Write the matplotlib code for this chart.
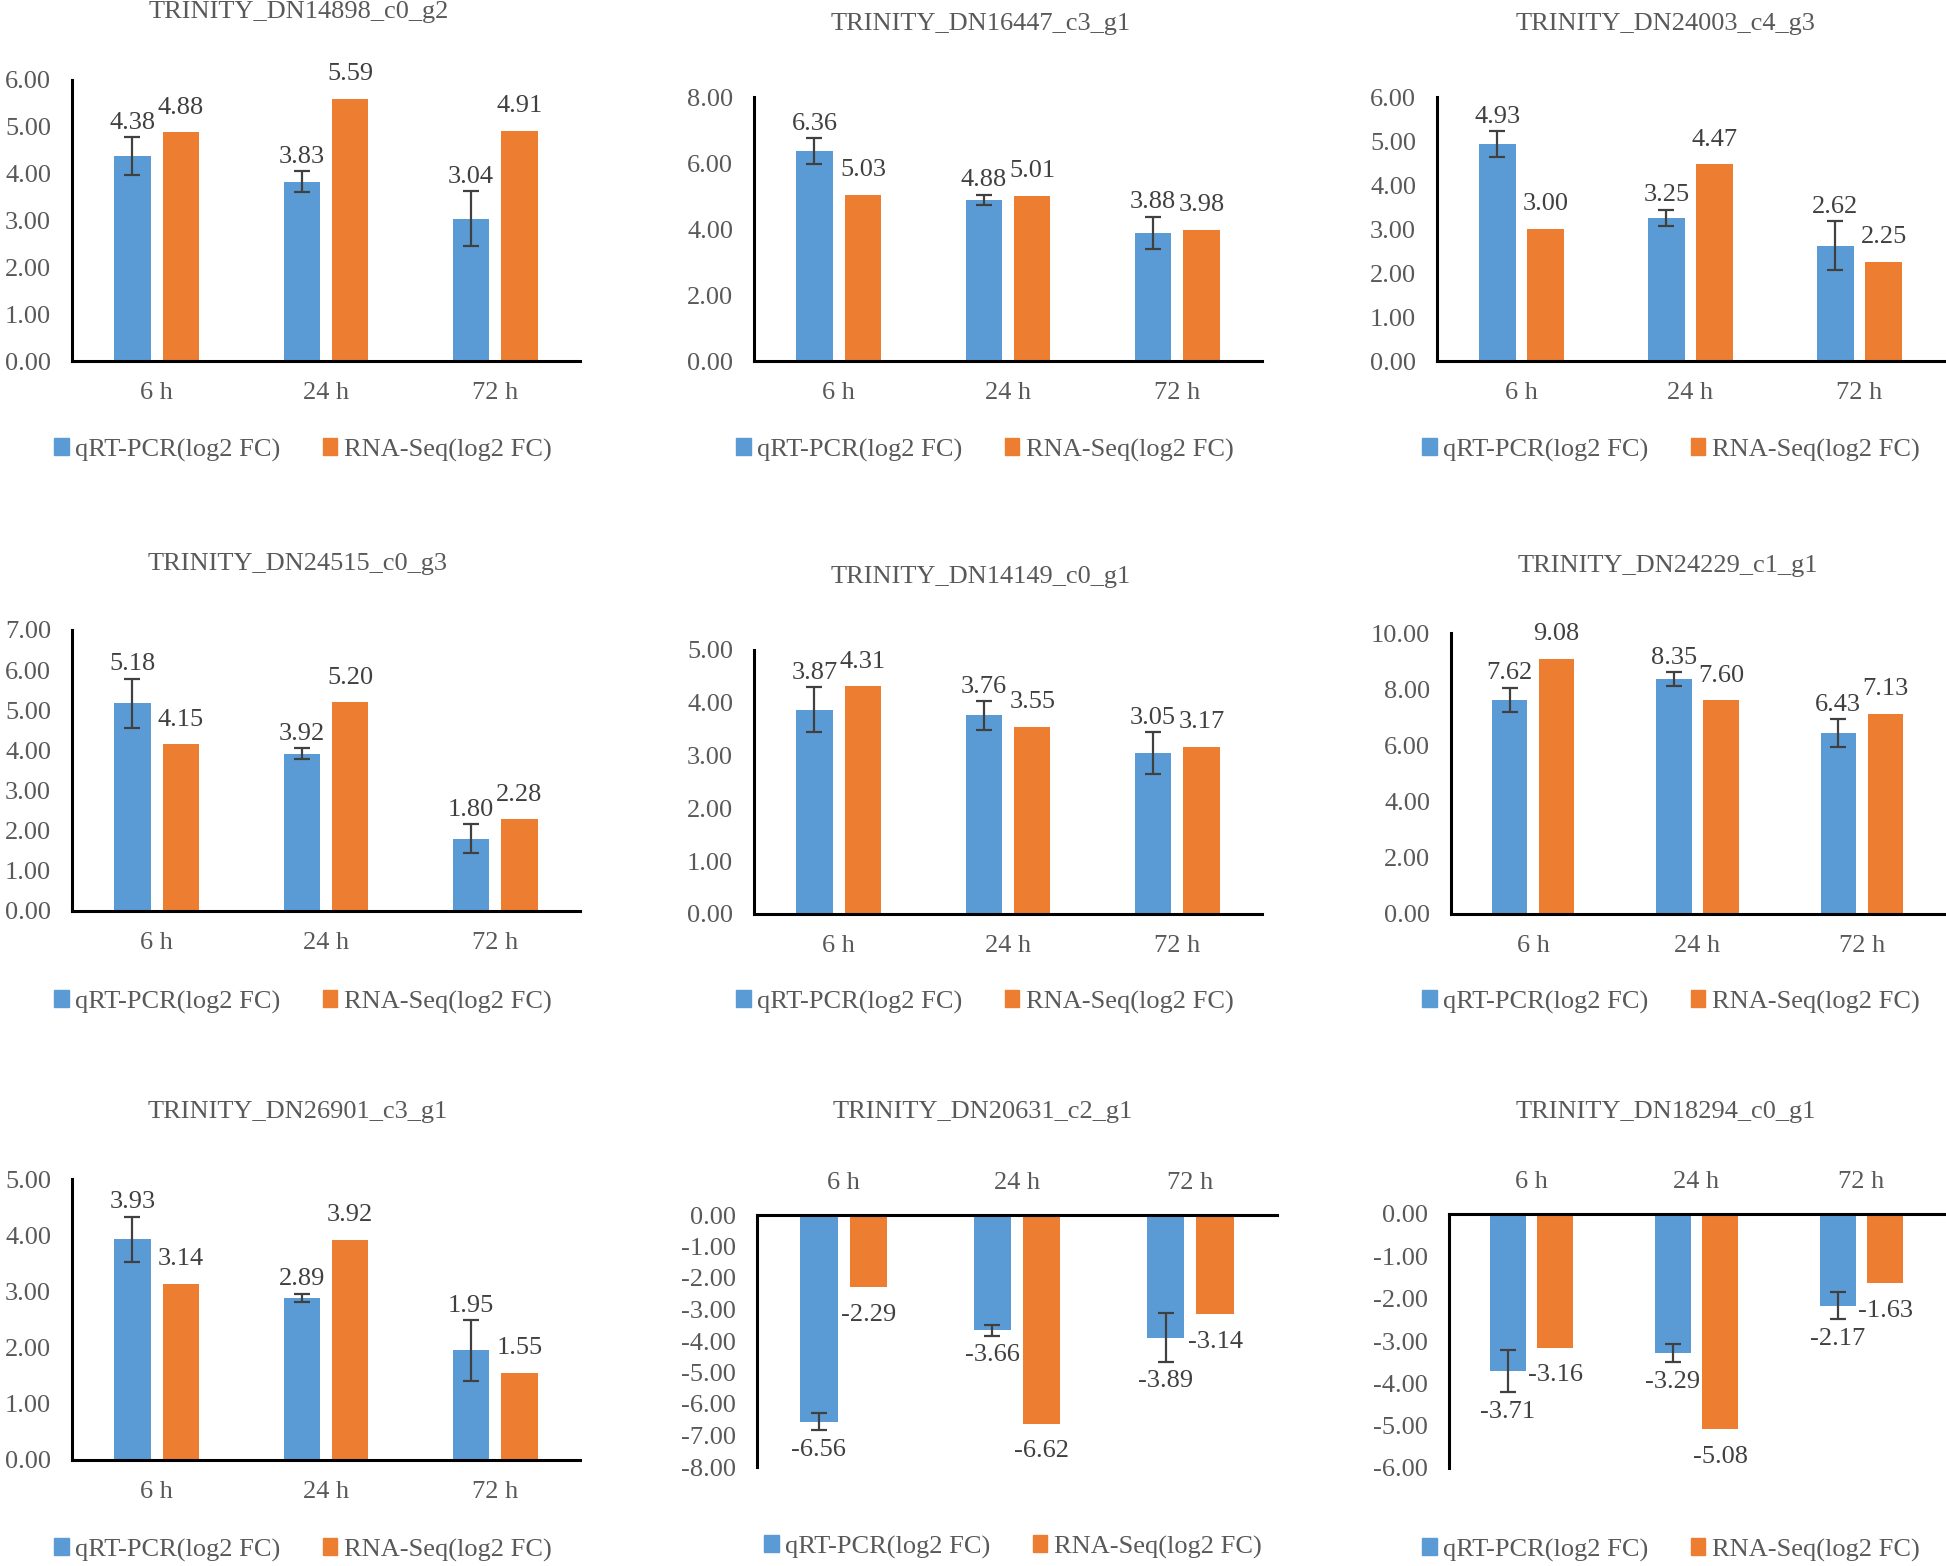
import numpy as np
import matplotlib
matplotlib.use("Agg")
import matplotlib.pyplot as plt
from matplotlib.patches import Patch
from matplotlib.ticker import FormatStrFormatter

plt.rcParams['font.family'] = ['Liberation Serif', 'DejaVu Serif']
plt.rcParams['axes.unicode_minus'] = False

# ── DATA ─────────────────────────────────────────────────────────────────────

times = ['6 h', '24 h', '72 h']
series_names = ['qRT-PCR(log2 FC)', 'RNA-Seq(log2 FC)']

genes = [
    'TRINITY_DN14898_c0_g2', 'TRINITY_DN16447_c3_g1', 'TRINITY_DN24003_c4_g3',
    'TRINITY_DN24515_c0_g3', 'TRINITY_DN14149_c0_g1', 'TRINITY_DN24229_c1_g1',
    'TRINITY_DN26901_c3_g1', 'TRINITY_DN20631_c2_g1', 'TRINITY_DN18294_c0_g1',
]

qpcr = [
    [4.38, 3.83, 3.04], [6.36, 4.88, 3.88], [4.93, 3.25, 2.62],
    [5.18, 3.92, 1.80], [3.87, 3.76, 3.05], [7.62, 8.35, 6.43],
    [3.93, 2.89, 1.95], [-6.56, -3.66, -3.89], [-3.71, -3.29, -2.17],
]

rnaseq = [
    [4.88, 5.59, 4.91], [5.03, 5.01, 3.98], [3.00, 4.47, 2.25],
    [4.15, 5.20, 2.28], [4.31, 3.55, 3.17], [9.08, 7.60, 7.13],
    [3.14, 3.92, 1.55], [-2.29, -6.62, -3.14], [-3.16, -5.08, -1.63],
]

qpcr_err = [
    [0.40, 0.23, 0.58], [0.40, 0.16, 0.49], [0.30, 0.19, 0.56],
    [0.61, 0.13, 0.36], [0.42, 0.27, 0.39], [0.43, 0.25, 0.50],
    [0.40, 0.07, 0.54], [0.28, 0.18, 0.78], [0.50, 0.21, 0.32],
]

y_limits = [(0, 6), (0, 8), (0, 6), (0, 7), (0, 5), (0, 10), (0, 5), (-8, 0), (-6, 0)]
y_steps  = [1, 2, 1, 1, 1, 2, 1, 1, 1]

# ── LAYOUT (pixels in a 1946x1566 canvas) ────────────────────────────────────

W, H = 1946, 1566
FS = 19
BLUE, ORANGE = '#5B9BD5', '#ED7D31'
GREY, DARK   = '#595959', '#404040'
BW, OFF      = 0.215, 0.143

# axis box: x left, x right, y top, y bottom
AX_BOX = [
    (72, 580, 80, 361),   (754, 1262, 97, 361),   (1437, 1944, 97, 361),
    (72, 580, 630, 911),  (754, 1262, 650, 914),  (1451, 1944, 633, 914),
    (72, 580, 1179, 1460), (757, 1277, 1215, 1467), (1449, 1944, 1214, 1468),
]
TITLE_XY  = [(299, 12), (981, 24), (1666, 24),
             (298, 564), (981, 577), (1668, 566),
             (298, 1112), (983, 1112), (1666, 1112)]
LEGEND_XY = [(303, 450), (985, 450), (1671, 450),
             (303, 1002), (985, 1002), (1671, 1002),
             (303, 1550), (1013, 1547), (1671, 1550)]

# ── PLOT ─────────────────────────────────────────────────────────────────────

fig = plt.figure(figsize=(W / 100, H / 100), dpi=100)
x = np.arange(len(times))

for i in range(len(genes)):
    x0, x1, yt, yb = AX_BOX[i]
    ax = fig.add_axes([x0 / W, 1 - yb / H, (x1 - x0) / W, (yb - yt) / H])
    lo, hi = y_limits[i]
    neg = hi <= 0

    ax.bar(x - OFF, qpcr[i], BW, color=BLUE, zorder=2,
           yerr=qpcr_err[i],
           error_kw=dict(ecolor=DARK, elinewidth=1.6, capsize=6, capthick=1.6))
    ax.bar(x + OFF, rnaseq[i], BW, color=ORANGE, zorder=2)

    ax.set_xlim(-0.5, 2.5)
    ax.set_ylim(lo, hi)
    ax.set_yticks(np.arange(lo, hi + 1e-9, y_steps[i]))
    ax.yaxis.set_major_formatter(FormatStrFormatter('%.2f'))
    ax.set_xticks(x)
    ax.set_xticklabels(times)

    for s in ax.spines.values():
        s.set_visible(False)
    ax.spines['left'].set_visible(True)
    base = 'top' if neg else 'bottom'
    ax.spines[base].set_visible(True)
    for s in ('left', base):
        ax.spines[s].set_linewidth(2.2)
        ax.spines[s].set_color('black')

    if neg:
        ax.xaxis.tick_top()
    ax.tick_params(axis='y', length=0, labelsize=FS, labelcolor=GREY, pad=15)
    ax.tick_params(axis='x', length=0, labelsize=FS, labelcolor=GREY, pad=15)

    # value labels
    for j in range(len(times)):
        q, r, e = qpcr[i][j], rnaseq[i][j], qpcr_err[i][j]
        if neg:
            ax.annotate(f'{q:.2f}', (x[j] - OFF, q - e), xytext=(0, -6),
                        textcoords='offset points', ha='center', va='top',
                        fontsize=FS, color=DARK)
            ax.annotate(f'{r:.2f}', (x[j] + OFF, r), xytext=(0, -12),
                        textcoords='offset points', ha='center', va='top',
                        fontsize=FS, color=DARK)
        else:
            ax.annotate(f'{q:.2f}', (x[j] - OFF, q + e), xytext=(0, 6),
                        textcoords='offset points', ha='center', va='baseline',
                        fontsize=FS, color=DARK)
            ax.annotate(f'{r:.2f}', (x[j] + OFF, r), xytext=(0, 13.5),
                        textcoords='offset points', ha='center', va='baseline',
                        fontsize=FS, color=DARK)

    tx, ty = TITLE_XY[i]
    fig.text(tx / W, 1 - ty / H, genes[i], ha='center', va='center',
             fontsize=FS, color=GREY)

    lx, ly = LEGEND_XY[i]
    fig.legend(handles=[Patch(color=BLUE), Patch(color=ORANGE)],
               labels=series_names, loc='center',
               bbox_to_anchor=(lx / W, 1 - ly / H), ncol=2, frameon=False,
               fontsize=FS, labelcolor=GREY, handlelength=0.55,
               handleheight=0.6, handletextpad=0.25, columnspacing=1.6,
               borderpad=0, borderaxespad=0)

fig.savefig('out.png', dpi=100)
print("Saved out.png")
